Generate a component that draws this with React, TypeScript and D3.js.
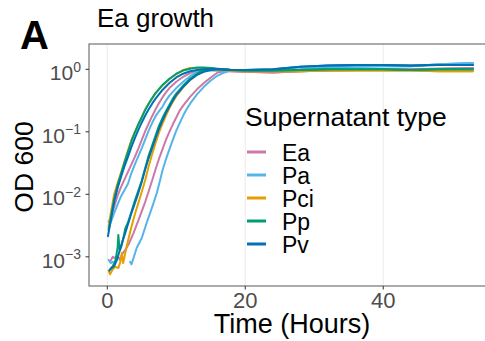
import React from "react";
import * as d3 from "d3";

// ---- data (time in hours, log10 OD600) ----
const supernatantTypes = ["Ea", "Pa", "Pci", "Pp", "Pv"];
const typeColors = ["#CC79A7", "#56B4E9", "#E69F00", "#009E73", "#0072B2"];

const plateauTimes = [20, 24, 28, 32, 36, 40, 44, 48, 53];

// Ea
const eaEarlyT = [0.2, 0.5, 1, 1.5, 2, 2.5, 3, 3.5, 4, 4.5, 5, 5.5, 6, 6.5, 7, 7.5, 8, 8.5, 9, 10, 11, 12, 13, 14, 15, 16, 18];
const eaEarlyV = [-2.44, -2.38, -2.2, -2.02, -1.88, -1.76, -1.64, -1.52, -1.4, -1.27, -1.13, -0.99, -0.87, -0.75, -0.64, -0.54, -0.45, -0.37, -0.3, -0.2, -0.12, -0.06, -0.02, -0.01, -0.01, -0.02, -0.03];
const eaLateT = [0.4, 0.8, 1.1, 1.5, 1.84, 2.2, 2.6, 3.1, 3.8, 4.7, 5.5, 6, 6.5, 7, 7.5, 8, 8.5, 9, 9.5, 10, 10.5, 11, 12, 13, 14, 15, 16, 17, 18];
const eaLateV = [-3.08, -3.0, -3.02, -2.98, -3.05, -2.95, -2.89, -2.8, -2.62, -2.36, -2.12, -1.95, -1.78, -1.6, -1.43, -1.28, -1.13, -1.0, -0.88, -0.77, -0.66, -0.58, -0.44, -0.32, -0.22, -0.13, -0.05, -0.03, -0.03];
const eaPlateau = [-0.04, -0.05, -0.03, -0.02, -0.01, 0.0, 0.0, 0.01, 0.02];

// Pa
const paEarlyT = [0.2, 0.5, 1, 1.5, 2, 2.5, 3, 3.5, 4, 4.5, 5, 5.5, 6, 6.5, 7, 7.5, 8, 8.5, 9, 10, 11, 12, 13, 14, 15, 16, 18];
const paEarlyV = [-2.55, -2.45, -2.3, -2.16, -2.03, -1.93, -1.83, -1.66, -1.52, -1.39, -1.26, -1.12, -0.98, -0.86, -0.75, -0.67, -0.6, -0.5, -0.42, -0.3, -0.2, -0.11, -0.04, -0.02, -0.02, -0.02, -0.02];
const paLateT = [0.2, 0.5, 0.8, 1.0, 3.3, 3.5, 3.8, 4.26, 5, 5.7, 6.2, 6.7, 7.2, 7.6, 8, 8.5, 9, 9.5, 10, 10.5, 11, 11.5, 12, 13, 14, 15, 16, 17, 17.5, 18];
const paLateV = [-3.05, -3.1, -3.08, NaN, -3.08, -3.12, -3.02, -2.86, -2.7, -2.46, -2.3, -2.14, -1.97, -1.8, -1.62, -1.44, -1.28, -1.13, -0.98, -0.86, -0.74, -0.64, -0.55, -0.4, -0.28, -0.18, -0.1, -0.05, -0.03, -0.02];
const paPlateau = [-0.02, -0.02, 0.0, 0.03, 0.04, 0.05, 0.05, 0.08, 0.1];

// Pci
const pciEarlyT = [0.2, 0.5, 1, 1.5, 2, 2.5, 3, 3.5, 4, 4.5, 5, 5.5, 6, 6.5, 7, 8, 9, 10, 11, 12, 13, 14, 16, 18];
const pciEarlyV = [-2.52, -2.3, -2.0, -1.82, -1.65, -1.47, -1.3, -1.13, -1.0, -0.88, -0.76, -0.64, -0.55, -0.47, -0.38, -0.26, -0.16, -0.08, -0.01, 0.02, 0.02, 0.01, -0.01, -0.02];
const pciLateT = [0.2, 0.4, 0.8, 1.2, 1.6, 1.9, 2.1, 2.3, 2.8, 3.5, 4, 4.5, 5, 5.5, 6, 6.5, 7, 7.5, 8, 8.5, 9, 9.5, 10, 11, 12, 13, 14, 15, 16, 17, 18];
const pciLateV = [-3.22, -3.28, -3.2, -3.16, -3.18, -3.08, -2.94, -3.1, -2.84, -2.52, -2.32, -2.14, -1.96, -1.77, -1.55, -1.36, -1.18, -1.01, -0.87, -0.74, -0.62, -0.52, -0.43, -0.29, -0.17, -0.08, -0.03, 0.0, 0.0, -0.01, -0.02];
const pciPlateau = [-0.03, -0.03, -0.03, -0.02, -0.02, -0.02, -0.02, -0.03, -0.03];

// Pp
const ppEarlyT = [0.2, 0.5, 1, 1.5, 2, 2.5, 3, 3.5, 4, 4.5, 5, 5.5, 6, 6.5, 7, 8, 9, 10, 11, 12, 13, 14, 15, 16, 18];
const ppEarlyV = [-2.57, -2.38, -2.08, -1.85, -1.67, -1.49, -1.32, -1.15, -1.01, -0.88, -0.77, -0.65, -0.55, -0.46, -0.38, -0.25, -0.15, -0.07, -0.02, 0.01, 0.03, 0.03, 0.02, 0.0, -0.01];
const ppLateT = [0.4, 0.8, 1.2, 1.5, 1.6, 1.8, 2.0, 2.3, 2.6, 3, 3.5, 4, 4.5, 5, 5.5, 6, 6.5, 7, 7.5, 8, 8.5, 9, 9.5, 10, 11, 12, 13, 14, 15, 16, 17, 18];
const ppLateV = [-3.2, -3.15, -3.05, -2.85, -2.65, -2.9, -2.85, -2.72, -2.55, -2.45, -2.28, -2.1, -1.94, -1.78, -1.58, -1.38, -1.22, -1.06, -0.9, -0.78, -0.67, -0.57, -0.47, -0.39, -0.26, -0.15, -0.07, -0.01, 0.02, 0.01, 0.0, -0.01];
const ppPlateau = [-0.02, -0.02, -0.01, 0.0, 0.0, 0.0, -0.01, 0.0, 0.0];

// Pv
const pvEarlyT = [0.1, 0.5, 1, 1.5, 2, 2.5, 3, 3.5, 4, 4.5, 5, 5.5, 6, 6.5, 7, 8, 9, 10, 11, 12, 13, 14, 16, 18];
const pvEarlyV = [-2.67, -2.42, -2.12, -1.9, -1.72, -1.55, -1.4, -1.24, -1.1, -0.97, -0.85, -0.74, -0.64, -0.55, -0.47, -0.33, -0.22, -0.13, -0.07, -0.03, -0.01, 0.0, 0.0, -0.01];
const pvLateT = [0.3, 0.6, 1.0, 1.4, 1.8, 2.2, 2.6, 3, 3.5, 4, 4.5, 5, 5.5, 6, 6.5, 7, 7.5, 8, 8.5, 9, 9.5, 10, 11, 12, 13, 14, 15, 16, 17, 18];
const pvLateV = [-3.22, -3.18, -3.15, -3.05, -2.9, -2.75, -2.62, -2.48, -2.3, -2.14, -1.98, -1.8, -1.6, -1.42, -1.26, -1.1, -0.95, -0.82, -0.7, -0.6, -0.5, -0.41, -0.28, -0.17, -0.09, -0.04, -0.01, 0.0, 0.0, -0.01];
const pvPlateau = [-0.01, 0.0, 0.04, 0.06, 0.07, 0.07, 0.06, 0.07, 0.07];

const xTicks = [0, 20, 40];
const yTickExponents = [0, -1, -2, -3];

// ---- build series ----
type Pt = { t: number; od: number };
function series(ts: number[], vs: number[], plateau: number[] | null): Pt[] {
  const pts: Pt[] = ts.map((t, i) => ({ t, od: Math.pow(10, vs[i]) }));
  if (plateau) plateau.forEach((v, i) => pts.push({ t: plateauTimes[i], od: Math.pow(10, v) }));
  return pts;
}

const curves: { type: string; pts: Pt[] }[] = [
  { type: "Ea", pts: series(eaEarlyT, eaEarlyV, eaPlateau) },
  { type: "Ea", pts: series(eaLateT, eaLateV, eaPlateau) },
  { type: "Pa", pts: series(paEarlyT, paEarlyV, paPlateau) },
  { type: "Pa", pts: series(paLateT, paLateV, paPlateau) },
  { type: "Pci", pts: series(pciEarlyT, pciEarlyV, pciPlateau) },
  { type: "Pci", pts: series(pciLateT, pciLateV, pciPlateau) },
  { type: "Pp", pts: series(ppEarlyT, ppEarlyV, ppPlateau) },
  { type: "Pp", pts: series(ppLateT, ppLateV, ppPlateau) },
  { type: "Pv", pts: series(pvEarlyT, pvEarlyV, pvPlateau) },
  { type: "Pv", pts: series(pvLateT, pvLateV, pvPlateau) },
];

const W = 485;
const H = 341;
const FONT = "'Liberation Sans', Arial, Helvetica, sans-serif";

export default function App() {
  const left = 89, right = 495, top = 44, bottom = 286;
  const x = d3.scaleLinear().domain([-2.65, 56.2]).range([left, right]);
  const y = d3.scaleLog().domain([Math.pow(10, -3.467), Math.pow(10, 0.405)]).range([bottom, top]);
  const color = d3.scaleOrdinal<string, string>().domain(supernatantTypes).range(typeColors);
  const line = d3
    .line<Pt>()
    .defined((d) => !isNaN(d.od))
    .x((d) => x(d.t))
    .y((d) => y(d.od));

  const axisGray = "#4d4d4d";
  const legendX = 245;
  const legendItemY0 = 152;
  const legendStep = 23;

  return (
    <svg
      width={W}
      height={H}
      style={{ position: "absolute", left: 0, top: 0, background: "#ffffff" }}
      fontFamily={FONT}
    >
      <defs>
        <clipPath id="panel">
          <rect x={left} y={top} width={right - left} height={bottom - top} />
        </clipPath>
      </defs>
      {/* grid */}
      {xTicks.map((t) => (
        <line key={"g" + t} x1={x(t)} x2={x(t)} y1={top} y2={bottom} stroke="#ebebeb" strokeWidth={1} />
      ))}
      {/* curves */}
      <g clipPath="url(#panel)">
        {curves.map((c, i) => (
          <path
            key={i}
            d={line(c.pts) || ""}
            fill="none"
            stroke={color(c.type)}
            strokeWidth={2}
            strokeLinejoin="round"
            strokeLinecap="round"
          />
        ))}
      </g>
      {/* panel border */}
      <rect x={left} y={top} width={right - left} height={bottom - top} fill="none" stroke="#666666" strokeWidth={1.1} />
      {/* x axis ticks */}
      {xTicks.map((t) => (
        <g key={"xt" + t}>
          <line x1={x(t)} x2={x(t)} y1={bottom} y2={bottom + 3.5} stroke="#333" strokeWidth={1} />
          <text x={x(t)} y={308} textAnchor="middle" fontSize={22} fill={axisGray}>
            {t}
          </text>
        </g>
      ))}
      {/* y axis ticks */}
      {yTickExponents.map((e) => {
        const yy = y(Math.pow(10, e));
        return (
          <g key={"yt" + e}>
            <line x1={left - 3.5} x2={left} y1={yy} y2={yy} stroke="#333" strokeWidth={1} />
            <text x={81} y={yy + 10.8} textAnchor="end" fontSize={21} fill={axisGray}>
              <tspan>10</tspan>
              <tspan fontSize={14} dy={-8.5}>
                {e === 0 ? "0" : "\u2212" + Math.abs(e)}
              </tspan>
            </text>
          </g>
        );
      })}
      {/* axis titles */}
      <text x={(left + right) / 2} y={333} textAnchor="middle" fontSize={27} fill="#000">
        Time (Hours)
      </text>
      <text
        transform={`translate(33, ${(top + bottom) / 2 + 2}) rotate(-90)`}
        textAnchor="middle"
        fontSize={26.5}
        fill="#000"
      >
        OD 600
      </text>
      {/* title + tag */}
      <text x={97} y={27} fontSize={26} fill="#000">
        Ea growth
      </text>
      <text x={20} y={49} fontSize={40} fontWeight="bold" fill="#000">
        A
      </text>
      {/* legend */}
      <text x={legendX} y={126} fontSize={26.5} fill="#000">
        Supernatant type
      </text>
      {supernatantTypes.map((s, i) => {
        const cy = legendItemY0 + i * legendStep;
        return (
          <g key={"lg" + s}>
            <line x1={247} x2={266} y1={cy} y2={cy} stroke={color(s)} strokeWidth={3} />
            <text x={282} y={cy + 8.5} fontSize={23} fill="#000">
              {s}
            </text>
          </g>
        );
      })}
    </svg>
  );
}
